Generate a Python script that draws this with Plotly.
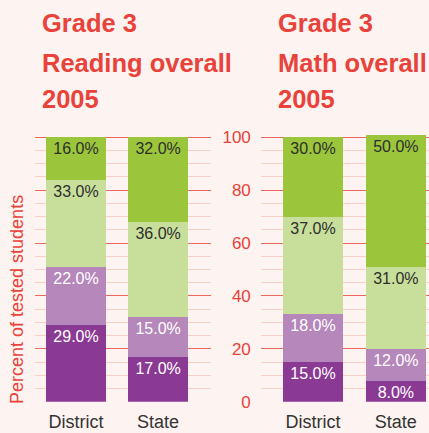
import plotly.graph_objects as go

categories = ["District", "State"]
levels = ["Level 1", "Level 2", "Level 3", "Level 4"]
reading = {
    "Level 1": [29.0, 17.0],
    "Level 2": [22.0, 15.0],
    "Level 3": [33.0, 36.0],
    "Level 4": [16.0, 32.0],
}
math = {
    "Level 1": [15.0, 8.0],
    "Level 2": [18.0, 12.0],
    "Level 3": [37.0, 31.0],
    "Level 4": [30.0, 50.0],
}
title_lines = [["Grade 3", "Reading overall", "2005"], ["Grade 3", "Math overall", "2005"]]
y_ticks = [0, 20, 40, 60, 80, 100]
y_title = "Percent of tested students"

colors = {"Level 1": "#8B3A94", "Level 2": "#B587BA", "Level 3": "#C8DF9B", "Level 4": "#9BC63B"}
txtcol = {"Level 1": "#FFFFFF", "Level 2": "#FFFFFF", "Level 3": "#2E2E2E", "Level 4": "#2E2E2E"}

FONT = "Liberation Sans, Arial, sans-serif"
RED = "#E8423A"
BG = "#FDF3F0"
W, H = 429, 433

fig = go.Figure()
for data, xa, ya in [(reading, "x", "y"), (math, "x2", "y2")]:
    for lv in levels:
        fig.add_trace(go.Bar(
            x=categories, y=data[lv], name=lv, xaxis=xa, yaxis=ya,
            marker=dict(color=colors[lv], line=dict(width=0)),
            texttemplate="%{y:.1f}%", textposition="inside",
            insidetextanchor="end", constraintext="none",
            insidetextfont=dict(family=FONT, size=16, color=txtcol[lv]),
            showlegend=False, hoverinfo="skip",
        ))

ydom = [0.0723, 0.689]
yax = dict(range=[0, 101], domain=ydom, tickvals=y_ticks, showgrid=True,
           gridcolor="#EE675C", gridwidth=1.2, zeroline=False, automargin=False,
           minor=dict(dtick=5, showgrid=True, gridcolor="#F9CEC4", gridwidth=1),
           fixedrange=True)
xax = dict(showline=False, ticks="", automargin=False, ticklabelstandoff=7,
           tickfont=dict(family=FONT, size=18, color="#333333"))

annotations = []
line_mid = [23.5, 62.5, 98.5]
for xpix, lines in [(40, title_lines[0]), (276, title_lines[1])]:
    for ymid, txt in zip(line_mid, lines):
        annotations.append(dict(
            text=txt, x=xpix / W, y=1 - ymid / H, xref="paper", yref="paper",
            xanchor="left", yanchor="middle", align="left", showarrow=False,
            font=dict(family=FONT, size=25.5, color=RED, weight="bold")))
annotations.append(dict(
    text=y_title, x=17 / W, y=1 - 300 / H, xref="paper", yref="paper",
    xanchor="center", yanchor="middle", textangle=-90, showarrow=False,
    font=dict(family=FONT, size=18, color=RED)))

fig.update_layout(
    width=W, height=H, margin=dict(l=0, r=0, t=0, b=0),
    paper_bgcolor=BG, plot_bgcolor=BG, barmode="stack", bargap=0.27,
    xaxis=dict(domain=[0.0816, 0.492], range=[-0.5, 1.646], **xax),
    xaxis2=dict(domain=[0.608, 1.0], range=[-0.63, 1.4], **xax),
    yaxis=dict(**yax, showticklabels=False),
    yaxis2=dict(**yax, showticklabels=True, anchor="x2",
                tickfont=dict(family=FONT, size=17, color=RED), ticklabelstandoff=9),
    annotations=annotations,
)
fig.write_html("out.html")
